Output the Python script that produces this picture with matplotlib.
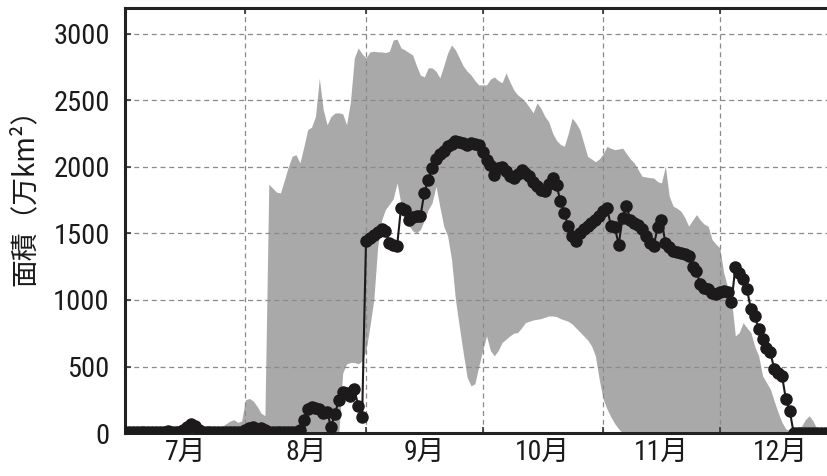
import numpy as np
import matplotlib
matplotlib.use("Agg")
import matplotlib.pyplot as plt

# month labels and lengths (x axis = days since Jul 1)
month_names = ["7月", "8月", "9月", "10月", "11月", "12月"]
month_days = [31, 31, 30, 31, 30, 31]

# observed area (daily, 万km2) - black dots
obs_jul = [5, 5, 5, 5, 5, 5, 5, 5, 5, 5, 5, 15, 5, 5, 5, 20, 45, 70, 50, 20,
           5, 5, 5, 5, 5, 5, 5, 5, 5, 5, 5]
obs_aug = [20, 40, 45, 25, 35, 20, 5, 5, 5, 5, 5, 5, 5, 10, 25, 100, 180, 193,
           185, 180, 150, 160, 45, 140, 250, 310, 300, 280, 330, 205, 120]
obs_sep = [1442, 1467, 1492, 1510, 1530, 1517, 1430, 1415, 1405, 1692, 1680,
           1605, 1625, 1630, 1630, 1805, 1905, 1990, 2060, 2100, 2117, 2155,
           2175, 2192, 2185, 2180, 2167, 2180, 2175, 2167]
obs_oct = [2110, 2055, 2017, 1942, 1990, 2000, 1967, 1930, 1917, 1950, 1980,
           1955, 1930, 1890, 1855, 1830, 1817, 1870, 1917, 1867, 1742, 1655,
           1555, 1480, 1442, 1505, 1530, 1555, 1580, 1605, 1630]
obs_nov = [1667, 1695, 1555, 1545, 1417, 1620, 1705, 1605, 1580, 1567, 1530,
           1480, 1430, 1405, 1545, 1605, 1430, 1400, 1365, 1360, 1355, 1345,
           1330, 1245, 1215, 1117, 1090, 1080, 1050, 1042]
obs_dec = [1060, 1065, 1057, 982, 1245, 1200, 1155, 1080, 930, 880, 780, 705,
           640, 607, 480, 450, 430, 255, 165, 0, 0, 0, 0, 0, 0, 0, 0, 0, 0, 0, 0]

# climatological range (gray band): max and min
upper_jul = [20, 25, 20, 15, 20, 30, 25, 20, 20, 25, 30, 25, 20, 25, 30, 40,
             55, 70, 55, 40, 30, 30, 40, 30, 30, 50, 70, 90, 100, 80, 90]
upper_aug = [250, 260, 240, 200, 150, 130, 1870, 1840, 1810, 1805, 1900, 2000,
             2080, 2092, 2030, 2150, 2280, 2300, 2380, 2667, 2430, 2317, 2380,
             2405, 2407, 2400, 2317, 2492, 2820, 2895, 2850]
upper_sep = [2820, 2865, 2870, 2865, 2865, 2860, 2870, 2955, 2960, 2895, 2880,
             2860, 2842, 2760, 2690, 2677, 2745, 2745, 2720, 2670, 2760, 2857,
             2917, 2880, 2820, 2760, 2720, 2692, 2650, 2617]
upper_oct = [2617, 2617, 2660, 2677, 2650, 2632, 2707, 2640, 2580, 2542, 2520,
             2490, 2450, 2407, 2482, 2440, 2380, 2340, 2255, 2200, 2170, 2155,
             2250, 2367, 2330, 2280, 2180, 2080, 2060, 2040, 2060]
upper_nov = [2100, 2155, 2140, 2130, 2135, 2142, 2100, 2060, 2030, 1980, 1930,
             1925, 1920, 1917, 1890, 1880, 2005, 1780, 1705, 1690, 1667, 1620,
             1555, 1600, 1642, 1600, 1570, 1555, 1455, 1420]
upper_dec = [1392, 1205, 1100, 1005, 730, 755, 830, 790, 755, 650, 580, 430,
             380, 330, 240, 155, 80, 30, 20, 10, 20, 50, 100, 130, 90, 30, 10,
             0, 0, 0, 0]

lower_jul = [0] * 31
lower_aug = [0] * 25 + [450, 520, 530, 530, 520, 540]
lower_sep = [620, 800, 1000, 1400, 1600, 1680, 1720, 1760, 1880, 1720, 1620,
             1560, 1520, 1505, 1530, 1600, 1680, 1730, 1855, 1700, 1555, 1480,
             1305, 1005, 800, 605, 420, 355, 370, 500]
lower_oct = [620, 730, 620, 580, 620, 680, 705, 730, 750, 755, 790, 830, 840,
             850, 855, 860, 870, 880, 880, 875, 860, 850, 840, 820, 790, 760,
             730, 700, 655, 580, 400]
lower_nov = [255, 180, 120, 70, 30] + [0] * 25
lower_dec = [0] * 31

obs = np.array(obs_jul + obs_aug + obs_sep + obs_oct + obs_nov + obs_dec)
upper = np.array(upper_jul + upper_aug + upper_sep + upper_oct + upper_nov + upper_dec)
lower = np.array(lower_jul + lower_aug + lower_sep + lower_oct + lower_nov + lower_dec)
days = np.arange(len(obs))

month_start = np.concatenate([[0], np.cumsum(month_days)[:-1]])
month_mid = month_start + np.array(month_days) / 2.0

num_font = ["Roboto Condensed", "Noto Sans CJK JP", "DejaVu Sans"]
ink = "#1c1a1a"

fig = plt.figure(figsize=(8.27, 4.76), dpi=100)
ax = fig.add_axes([0.1511, 0.0903, 0.8603, 0.8929])

ax.fill_between(days, lower, upper, color="#a9a9a9", lw=0, zorder=1)
ax.plot(days, obs, color=ink, lw=1.5, marker="o", ms=8, zorder=3)

ax.set_xlim(0, 183)
ax.set_ylim(0, 3195)

ax.set_yticks(np.arange(0, 3001, 500))
ax.set_xticks(month_start[1:])
ax.set_xticks(month_mid, minor=True)
ax.set_xticklabels(month_names, minor=True, family=num_font, fontsize=20, color=ink)
for lab in ax.get_yticklabels():
    lab.set_family(num_font)
    lab.set_fontsize(20.5)
    lab.set_color(ink)

ax.tick_params(axis="x", which="major", direction="in", length=4, width=1.2,
               top=True, bottom=True, labelbottom=False, color="#333333")
ax.tick_params(axis="x", which="minor", length=0, pad=4)
ax.tick_params(axis="y", direction="in", length=4, width=1.2, pad=11, color="#333333")

ax.grid(True, which="major", ls=(0, (4, 3)), color="#8a8a8a", lw=0.9)
ax.set_axisbelow("line")

for side in ["left", "top", "bottom"]:
    ax.spines[side].set_linewidth(2.2)
    ax.spines[side].set_color("#222222")
ax.spines["right"].set_visible(False)

fig.text(0.030, 0.60, "面積（万km²）", rotation=90, ha="center", va="center",
         fontsize=20, color=ink, family=["Noto Sans CJK JP", "DejaVu Sans"])

fig.savefig("out.png", dpi=100)
